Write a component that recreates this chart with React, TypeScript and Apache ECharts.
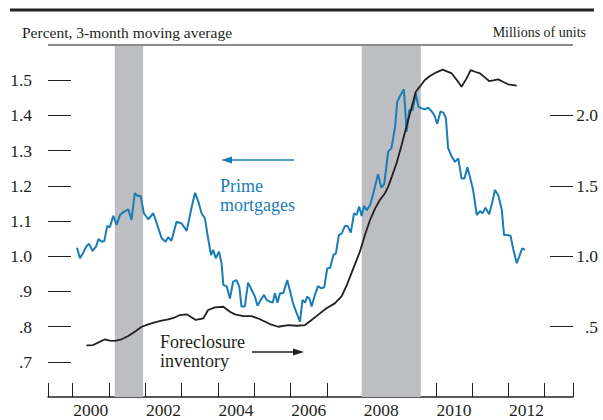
import React, { useEffect, useRef } from "react";
import * as echarts from "echarts";

// Prime mortgages (percent, 3-month moving average) — left axis
const primeYears = [
  2000.12, 2000.20, 2000.29, 2000.38, 2000.45, 2000.55, 2000.64, 2000.71, 2000.80, 2000.87,
  2000.95, 2001.02, 2001.12, 2001.21, 2001.30, 2001.41, 2001.53, 2001.62, 2001.71, 2001.79,
  2001.87, 2001.96, 2002.08, 2002.22, 2002.33, 2002.45, 2002.56, 2002.63, 2002.72, 2002.86,
  2003.00, 2003.14, 2003.27, 2003.37, 2003.46, 2003.55, 2003.64, 2003.73, 2003.81, 2003.87,
  2003.94, 2004.03, 2004.10, 2004.15, 2004.24, 2004.33, 2004.42, 2004.51, 2004.59, 2004.65,
  2004.74, 2004.83, 2004.93, 2005.02, 2005.09, 2005.18, 2005.27, 2005.34, 2005.43, 2005.51,
  2005.57, 2005.64, 2005.71, 2005.80, 2005.91, 2005.98, 2006.07, 2006.17, 2006.26, 2006.33,
  2006.40, 2006.46, 2006.52, 2006.58, 2006.67, 2006.76, 2006.84, 2006.93, 2007.01, 2007.09,
  2007.18, 2007.25, 2007.33, 2007.41, 2007.50, 2007.57, 2007.66, 2007.75, 2007.82, 2007.89,
  2007.96, 2008.02, 2008.10, 2008.19, 2008.28, 2008.41, 2008.50, 2008.58, 2008.69, 2008.78,
  2008.88, 2008.94, 2009.03, 2009.12, 2009.20, 2009.27, 2009.36, 2009.45, 2009.52, 2009.61,
  2009.70, 2009.79, 2009.89, 2009.96, 2010.04, 2010.13, 2010.21, 2010.28, 2010.34, 2010.44,
  2010.53, 2010.62, 2010.71, 2010.79, 2010.87, 2010.94, 2011.03, 2011.13, 2011.22, 2011.29,
  2011.37, 2011.47, 2011.56, 2011.63, 2011.72, 2011.82, 2011.88, 2011.97, 2012.06, 2012.13,
  2012.23, 2012.30, 2012.38, 2012.46,
];
const primeValues = [
  1.024, 0.994, 1.010, 1.029, 1.035, 1.015, 1.027, 1.049, 1.041, 1.043,
  1.086, 1.082, 1.115, 1.089, 1.117, 1.126, 1.133, 1.103, 1.179, 1.171,
  1.172, 1.122, 1.105, 1.122, 1.089, 1.051, 1.041, 1.054, 1.044, 1.098,
  1.093, 1.072, 1.136, 1.180, 1.155, 1.122, 1.108, 1.051, 1.003, 1.018,
  0.994, 1.013, 0.980, 0.918, 0.915, 0.880, 0.928, 0.932, 0.913, 0.857,
  0.857, 0.925, 0.904, 0.885, 0.859, 0.876, 0.890, 0.876, 0.871, 0.868,
  0.895, 0.868, 0.895, 0.895, 0.932, 0.904, 0.866, 0.838, 0.814, 0.876,
  0.868, 0.885, 0.880, 0.857, 0.890, 0.915, 0.909, 0.912, 0.965, 0.967,
  1.003, 1.008, 1.060, 1.065, 1.086, 1.086, 1.067, 1.122, 1.117, 1.141,
  1.114, 1.143, 1.131, 1.145, 1.179, 1.233, 1.195, 1.205, 1.297, 1.307,
  1.368, 1.439, 1.458, 1.474, 1.354, 1.415, 1.415, 1.463, 1.425, 1.420,
  1.417, 1.422, 1.411, 1.401, 1.376, 1.411, 1.408, 1.392, 1.307, 1.283,
  1.268, 1.278, 1.221, 1.221, 1.253, 1.226, 1.188, 1.117, 1.128, 1.122,
  1.138, 1.119, 1.155, 1.188, 1.174, 1.131, 1.060, 1.060, 1.058, 1.022,
  0.980, 0.999, 1.022, 1.018,
];

// Foreclosure inventory (millions of units) — right axis
const forecYears = [
  2000.38, 2000.56, 2000.70, 2000.89, 2001.02, 2001.16, 2001.35, 2001.53, 2001.71, 2001.90,
  2002.08, 2002.26, 2002.45, 2002.63, 2002.82, 2002.95, 2003.14, 2003.25, 2003.39, 2003.60,
  2003.73, 2003.92, 2004.15, 2004.33, 2004.47, 2004.70, 2004.93, 2005.16, 2005.43, 2005.66,
  2005.94, 2006.17, 2006.40, 2006.58, 2006.81, 2006.99, 2007.22, 2007.41, 2007.55, 2007.73,
  2007.91, 2008.05, 2008.19, 2008.33, 2008.46, 2008.60, 2008.69, 2008.79, 2008.92, 2009.06,
  2009.19, 2009.34, 2009.45, 2009.56, 2009.70, 2009.84, 2010.02, 2010.19, 2010.44, 2010.58,
  2010.71, 2010.85, 2010.96, 2011.08, 2011.22, 2011.36, 2011.47, 2011.58, 2011.72, 2011.85,
  2011.99, 2012.23,
];
const forecValues = [
  0.366, 0.369, 0.386, 0.410, 0.400, 0.398, 0.410, 0.433, 0.464, 0.499,
  0.516, 0.530, 0.542, 0.552, 0.566, 0.582, 0.587, 0.570, 0.547, 0.559,
  0.618, 0.637, 0.641, 0.606, 0.587, 0.575, 0.575, 0.552, 0.518, 0.499,
  0.511, 0.506, 0.511, 0.547, 0.594, 0.630, 0.665, 0.717, 0.795, 0.914,
  1.032, 1.150, 1.257, 1.340, 1.399, 1.447, 1.494, 1.565, 1.660, 1.790,
  1.920, 2.062, 2.168, 2.204, 2.251, 2.280, 2.306, 2.325, 2.298, 2.251,
  2.204, 2.263, 2.322, 2.310, 2.298, 2.268, 2.244, 2.249, 2.256, 2.239,
  2.221, 2.211,
];

// Recessions (shaded)
const recessions = [
  [2001.16, 2001.94],
  [2007.96, 2009.59],
];

// Axis ticks / labels
const xMin = 1999.32;
const xMax = 2013.78;
const yearTicks = [2000, 2001, 2002, 2003, 2004, 2005, 2006, 2007, 2008, 2009, 2010, 2011, 2012, 2013];
const yearLabels = [2000, 2002, 2004, 2006, 2008, 2010, 2012];
const leftTicks = [0.7, 0.8, 0.9, 1.0, 1.1, 1.2, 1.3, 1.4, 1.5];
const rightTicks = [0.5, 1.0, 1.5, 2.0];

const FONT = "'Liberation Serif', 'Times New Roman', serif";
const INK = "#231f20";
const BLUE = "#1a7db6";

const fmt = (v: number) => {
  const s = v.toFixed(1);
  return s.startsWith("0") ? s.slice(1) : s;
};

export default function App() {
  const ref = useRef<HTMLDivElement>(null);
  useEffect(() => {
    if (!ref.current) return;
    const chart = echarts.init(ref.current, null, { renderer: "svg" });
    const option: any = {
      animation: false,
      backgroundColor: "#ffffff",
      grid: { left: 48, right: 30, top: 45, bottom: 23 },
      xAxis: {
        type: "value",
        min: xMin,
        max: xMax,
        axisLine: { show: true, lineStyle: { color: INK, width: 1.5 } },
        axisTick: {
          show: true,
          inside: true,
          length: 14,
          customValues: [xMin, ...yearTicks, xMax],
          lineStyle: { color: INK, width: 1 },
        },
        axisLabel: {
          customValues: yearLabels.map((y) => y + 0.5),
          formatter: (v: number) => String(Math.floor(v)),
          fontFamily: FONT,
          fontSize: 17.5,
          color: INK,
          margin: 4,
        },
        splitLine: { show: false },
      },
      yAxis: [
        {
          type: "value",
          position: "left",
          min: 0.6,
          max: 1.6,
          axisLine: { show: false },
          axisTick: {
            show: true,
            inside: true,
            length: 23,
            customValues: leftTicks,
            lineStyle: { color: INK, width: 1 },
          },
          axisLabel: {
            customValues: leftTicks,
            formatter: fmt,
            fontFamily: FONT,
            fontSize: 17.5,
            color: INK,
            margin: 16,
          },
          splitLine: { show: false },
        },
        {
          type: "value",
          position: "right",
          min: 0,
          max: 2.5,
          axisLine: { show: false },
          axisTick: {
            show: true,
            inside: true,
            length: 23,
            customValues: rightTicks,
            lineStyle: { color: INK, width: 1 },
          },
          axisLabel: {
            customValues: rightTicks,
            formatter: fmt,
            fontFamily: FONT,
            fontSize: 17.5,
            color: INK,
            align: "right",
            margin: 25,
          },
          splitLine: { show: false },
        },
      ],
      series: [
        {
          type: "line",
          data: [],
          z: 1,
          silent: true,
          markArea: {
            silent: true,
            itemStyle: { color: "#bdbec1" },
            data: recessions.map((r) => [{ xAxis: r[0] }, { xAxis: r[1] }]),
          },
        },
        {
          name: "Prime mortgages",
          type: "line",
          yAxisIndex: 0,
          z: 3,
          symbol: "none",
          lineStyle: { color: BLUE, width: 2 },
          data: primeYears.map((y, i) => [y, primeValues[i]]),
        },
        {
          name: "Foreclosure inventory",
          type: "line",
          yAxisIndex: 1,
          z: 4,
          symbol: "none",
          lineStyle: { color: INK, width: 1.8 },
          data: forecYears.map((y, i) => [y, forecValues[i]]),
        },
      ],
      graphic: [
        { type: "line", shape: { x1: 10, y1: 10, x2: 594, y2: 10 }, style: { stroke: INK, lineWidth: 3 } },
        { type: "line", shape: { x1: 48, y1: 45, x2: 573, y2: 45 }, style: { stroke: "#8a8a8a", lineWidth: 2 }, z: 10 },
        {
          type: "text",
          x: 22,
          y: 32,
          style: { text: "Percent, 3-month moving average", font: `15.5px ${FONT}`, fill: INK, verticalAlign: "middle", align: "left" },
        },
        {
          type: "text",
          x: 586,
          y: 32,
          style: { text: "Millions of units", font: `14px ${FONT}`, fill: INK, verticalAlign: "middle", align: "right" },
        },
        {
          type: "text",
          x: 220,
          y: 176,
          z: 10,
          style: { text: "Prime\nmortgages", font: `18px ${FONT}`, fill: BLUE, lineHeight: 19, align: "left", verticalAlign: "top" },
        },
        { type: "line", z: 10, shape: { x1: 230, y1: 160, x2: 294, y2: 160 }, style: { stroke: BLUE, lineWidth: 1.3 } },
        { type: "polygon", z: 10, shape: { points: [[221, 160], [232, 156.5], [232, 163.5]] }, style: { fill: BLUE } },
        {
          type: "text",
          x: 160,
          y: 333,
          z: 10,
          style: { text: "Foreclosure\ninventory", font: `18px ${FONT}`, fill: INK, lineHeight: 18.5, align: "left", verticalAlign: "top" },
        },
        { type: "line", z: 10, shape: { x1: 252, y1: 352, x2: 294, y2: 352 }, style: { stroke: INK, lineWidth: 1.3 } },
        { type: "polygon", z: 10, shape: { points: [[304, 352], [293, 348.5], [293, 355.5]] }, style: { fill: INK } },
      ],
    };
    chart.setOption(option);
    return () => chart.dispose();
  }, []);
  return (
    <div
      ref={ref}
      style={{ position: "fixed", left: 0, top: 0, width: 603, height: 420, background: "#fff" }}
    />
  );
}
